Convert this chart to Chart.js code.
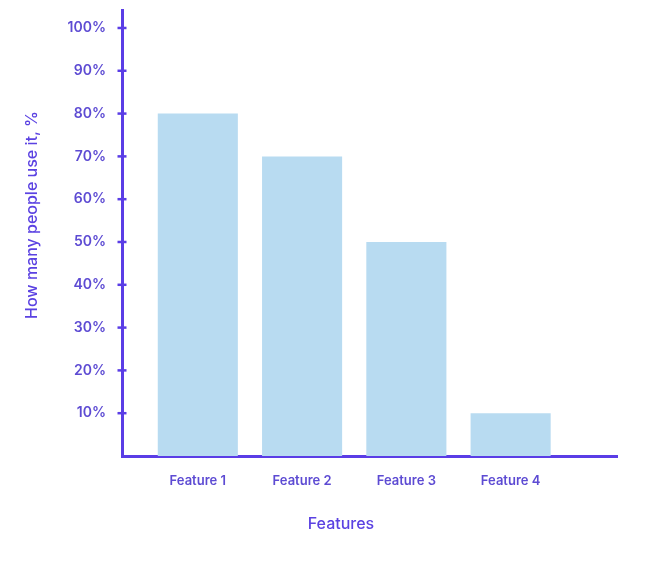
<!DOCTYPE html>
<html>
<head>
<meta charset="utf-8">
<script src="https://cdn.jsdelivr.net/npm/chart.js@4/dist/chart.umd.min.js"></script>
<style>
  html, body { margin: 0; padding: 0; background: #ffffff; }
  #wrap { width: 650px; height: 563px; position: relative; }
</style>
</head>
<body>
<div id="wrap"><canvas id="c"></canvas></div>
<script>
const categories = ['Feature 1', 'Feature 2', 'Feature 3', 'Feature 4'];
const usage = [80, 70, 50, 10];
const yTickValues = [10, 20, 30, 40, 50, 60, 70, 80, 90, 100];
const xTitle = 'Features';
const yTitle = 'How many people use it, %';

const AXIS = '#5a3de6';
const LABEL = '#5d4bd3';
const TITLE = '#5b42e2';
const BAR = '#b8dbf1';
const FONT = 'Inter, "Noto Sans", sans-serif';

const axisDecor = {
  id: 'axisDecor',
  afterDraw(chart) {
    const { ctx, chartArea, scales } = chart;
    const y = scales.y;
    ctx.save();
    ctx.strokeStyle = AXIS;
    ctx.lineWidth = 2.5;
    const ax = chartArea.left;
    y.ticks.forEach(t => {
      const py = y.getPixelForValue(t.value);
      ctx.beginPath();
      ctx.moveTo(ax - 4.5, py);
      ctx.lineTo(ax + 4.5, py);
      ctx.stroke();
    });
    ctx.fillStyle = TITLE;
    ctx.textAlign = 'center';
    ctx.textBaseline = 'middle';
    ctx.font = '500 16px ' + FONT;
    ctx.fillText(xTitle, chartArea.left + 219, chartArea.bottom + 68);
    ctx.translate(32, chartArea.top + 205);
    ctx.rotate(-Math.PI / 2);
    ctx.fillText(yTitle, 0, 0);
    ctx.restore();
  }
};

new Chart(document.getElementById('c'), {
  type: 'bar',
  data: {
    datasets: [{
      data: usage.map((v, i) => ({ x: i + 1, y: v })),
      backgroundColor: BAR,
      borderWidth: 0,
      barPercentage: 0.96,
      categoryPercentage: 0.8
    }]
  },
  options: {
    responsive: true,
    maintainAspectRatio: false,
    animation: false,
    layout: { padding: { top: 10, right: 33, left: 0, bottom: 0 } },
    plugins: { legend: { display: false }, tooltip: { enabled: false } },
    scales: {
      x: {
        type: 'linear',
        offset: false,
        min: 0.273,
        max: 5.02,
        afterBuildTicks: axis => { axis.ticks = categories.map((c, i) => ({ value: i + 1 })); },
        afterFit: scale => { scale.height = 107; scale.paddingLeft = 0; scale.paddingRight = 0; },
        grid: { display: false },
        border: { display: true, color: AXIS, width: 3 },
        ticks: {
          autoSkip: false,
          maxRotation: 0,
          padding: 9,
          color: LABEL,
          font: { family: FONT, size: 13, weight: '600' },
          callback: v => categories[v - 1] ?? ''
        }
      },
      y: {
        min: 0,
        max: 104.2,
        afterBuildTicks: axis => { axis.ticks = yTickValues.map(v => ({ value: v })); },
        afterFit: scale => { scale.width = 122; scale.paddingTop = 0; scale.paddingBottom = 0; },
        grid: { display: false, drawTicks: false },
        border: { display: true, color: AXIS, width: 3 },
        ticks: {
          autoSkip: false,
          padding: 16,
          color: LABEL,
          font: { family: FONT, size: 14, weight: '600' },
          callback: v => v + '%'
        }
      }
    }
  },
  plugins: [axisDecor]
});
</script>
</body>
</html>
